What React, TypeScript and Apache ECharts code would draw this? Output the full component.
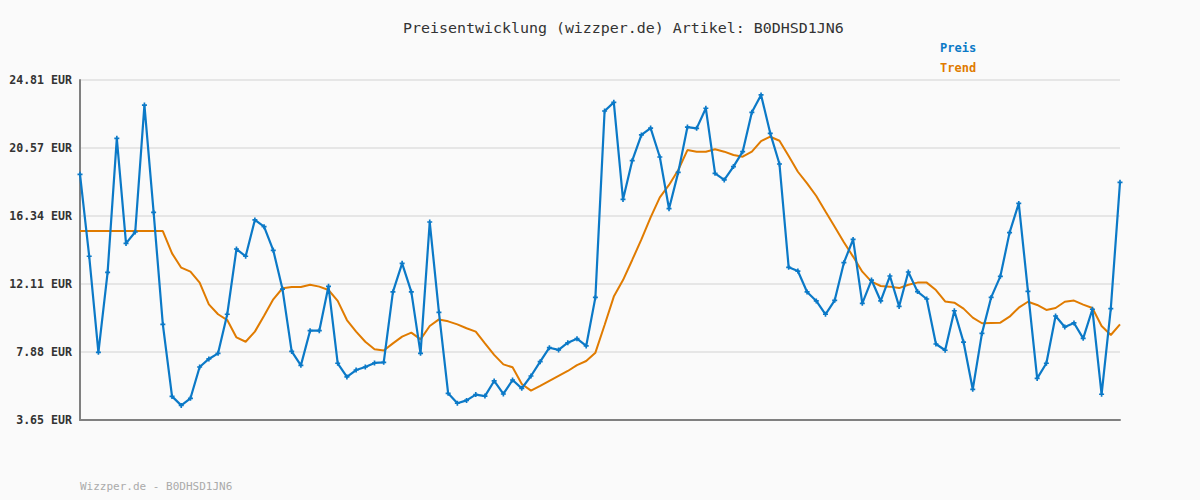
import React, { useEffect, useRef } from "react";
import * as echarts from "echarts";

const priceValues: number[] = [
  18.94, 13.84, 7.86, 12.84, 21.18, 14.64, 15.35, 23.25, 16.57, 9.6,
  5.12, 4.56, 5.0, 6.95, 7.45, 7.8, 10.23, 14.29, 13.84, 16.1,
  15.68, 14.21, 11.8, 7.92, 7.05, 9.21, 9.21, 11.97, 7.18, 6.33,
  6.76, 6.95, 7.2, 7.24, 11.62, 13.4, 11.62, 7.8, 15.97, 10.35,
  5.31, 4.69, 4.87, 5.23, 5.14, 6.08, 5.27, 6.14, 5.62, 6.39,
  7.28, 8.15, 8.01, 8.46, 8.71, 8.26, 11.28, 22.88, 23.42, 17.38,
  19.79, 21.39, 21.82, 20.02, 16.8, 19.06, 21.88, 21.8, 23.05, 19.0,
  18.59, 19.42, 20.35, 22.8, 23.88, 21.49, 19.58, 13.15, 12.92, 11.62,
  11.06, 10.23, 11.1, 13.44, 14.89, 10.91, 12.36, 11.06, 12.61, 10.72,
  12.86, 11.64, 11.18, 8.38, 7.99, 10.45, 8.5, 5.56, 9.04, 11.28,
  12.59, 15.31, 17.13, 11.66, 6.24, 7.18, 10.12, 9.44, 9.69, 8.73,
  10.54, 5.25, 10.58, 18.44,
];

const trendValues: number[] = [
  15.41, 15.41, 15.41, 15.41, 15.41, 15.41, 15.41, 15.41, 15.41, 15.41,
  14.02, 13.13, 12.88, 12.2, 10.85, 10.23, 9.87, 8.79, 8.52, 9.15,
  10.14, 11.16, 11.85, 11.93, 11.93, 12.07, 11.95, 11.74, 11.06, 9.87,
  9.15, 8.52, 8.05, 7.97, 8.42, 8.84, 9.09, 8.67, 9.5, 9.91,
  9.79, 9.6, 9.36, 9.15, 8.42, 7.7, 7.11, 6.93, 5.89, 5.48,
  5.77, 6.08, 6.39, 6.7, 7.07, 7.32, 7.84, 9.56, 11.33, 12.36,
  13.61, 14.89, 16.26, 17.51, 18.28, 19.21, 20.45, 20.35, 20.35, 20.5,
  20.35, 20.14, 20.04, 20.35, 21.01, 21.28, 21.03, 20.08, 19.1, 18.38,
  17.59, 16.62, 15.68, 14.71, 13.82, 12.88, 12.26, 11.99, 11.95, 11.86,
  12.07, 12.2, 12.2, 11.74, 11.03, 10.95, 10.58, 10.02, 9.67, 9.69,
  9.71, 10.08, 10.64, 11.01, 10.81, 10.5, 10.62, 11.01, 11.08, 10.83,
  10.62, 9.5, 8.94, 9.6,
];

const categories: string[] = priceValues.map((_, i) => String(i + 1));

const yTickLabels: string[] = [
  "3.65 EUR",
  "7.88 EUR",
  "12.11 EUR",
  "16.34 EUR",
  "20.57 EUR",
  "24.81 EUR",
];
const yMin = 3.65;
const yMax = 24.81;

const titleText = "Preisentwicklung (wizzper.de) Artikel: B0DHSD1JN6";
const footerText = "Wizzper.de - B0DHSD1JN6";

const BLUE = "#0b79c7";
const ORANGE = "#e07b00";
const MONO = "'DejaVu Sans Mono', 'Liberation Mono', monospace";

export default function App() {
  const ref = useRef<HTMLDivElement>(null);

  useEffect(() => {
    if (!ref.current) return;
    const chart = echarts.init(ref.current, undefined, { renderer: "svg" });
    const interval = (yMax - yMin) / 5;
    chart.setOption({
      animation: false,
      backgroundColor: "#fafafa",
      title: {
        text: titleText,
        left: 398,
        top: 15,
        textStyle: {
          fontFamily: MONO,
          fontSize: 14.95,
          fontWeight: "normal",
          color: "#333333",
        },
      },
      legend: {
        orient: "vertical",
        left: 935,
        top: 37,
        itemGap: 8,
        itemWidth: 0,
        itemHeight: 12,
        icon: "none",
        selectedMode: false,
        data: [
          { name: "Preis", textStyle: { color: BLUE } },
          { name: "Trend", textStyle: { color: ORANGE } },
        ],
        textStyle: {
          fontFamily: MONO,
          fontSize: 12,
          fontWeight: "bold",
          padding: [0, 0, 0, -5],
        },
      },
      graphic: [
        {
          type: "text",
          left: 80,
          top: 481,
          style: {
            text: footerText,
            fill: "#aaaaaa",
            font: `11px ${MONO}`,
          },
        },
      ],
      grid: {
        left: 80,
        right: 80,
        top: 80,
        bottom: 80,
        containLabel: false,
      },
      xAxis: {
        type: "category",
        data: categories,
        boundaryGap: false,
        axisLine: { show: true, lineStyle: { color: "#808080", width: 2 } },
        axisTick: { show: false },
        axisLabel: { show: false },
        splitLine: { show: false },
      },
      yAxis: {
        type: "value",
        min: yMin,
        max: yMax,
        interval: interval,
        axisLine: { show: true, lineStyle: { color: "#808080", width: 2 } },
        axisTick: { show: false },
        axisLabel: {
          margin: 8,
          fontFamily: MONO,
          fontSize: 11.6,
          fontWeight: "bold",
          color: "#333333",
          formatter: (_v: number, idx: number) => yTickLabels[idx] ?? "",
        },
        splitLine: { show: true, lineStyle: { color: "#e6e6e6", width: 2 } },
      },
      series: [
        {
          name: "Preis",
          type: "line",
          data: priceValues,
          symbol: "path://M2,0h2v2h2v2h-2v2h-2v-2h-2v-2h2z",
          symbolSize: 5,
          showSymbol: true,
          itemStyle: { color: BLUE },
          lineStyle: { color: BLUE, width: 2.2 },
          z: 3,
        },
        {
          name: "Trend",
          type: "line",
          data: trendValues,
          symbol: "none",
          itemStyle: { color: ORANGE },
          lineStyle: { color: ORANGE, width: 2 },
          z: 2,
        },
      ],
    });
    return () => chart.dispose();
  }, []);

  return (
    <div
      ref={ref}
      style={{ position: "fixed", left: 0, top: 0, width: 1200, height: 500 }}
    />
  );
}
